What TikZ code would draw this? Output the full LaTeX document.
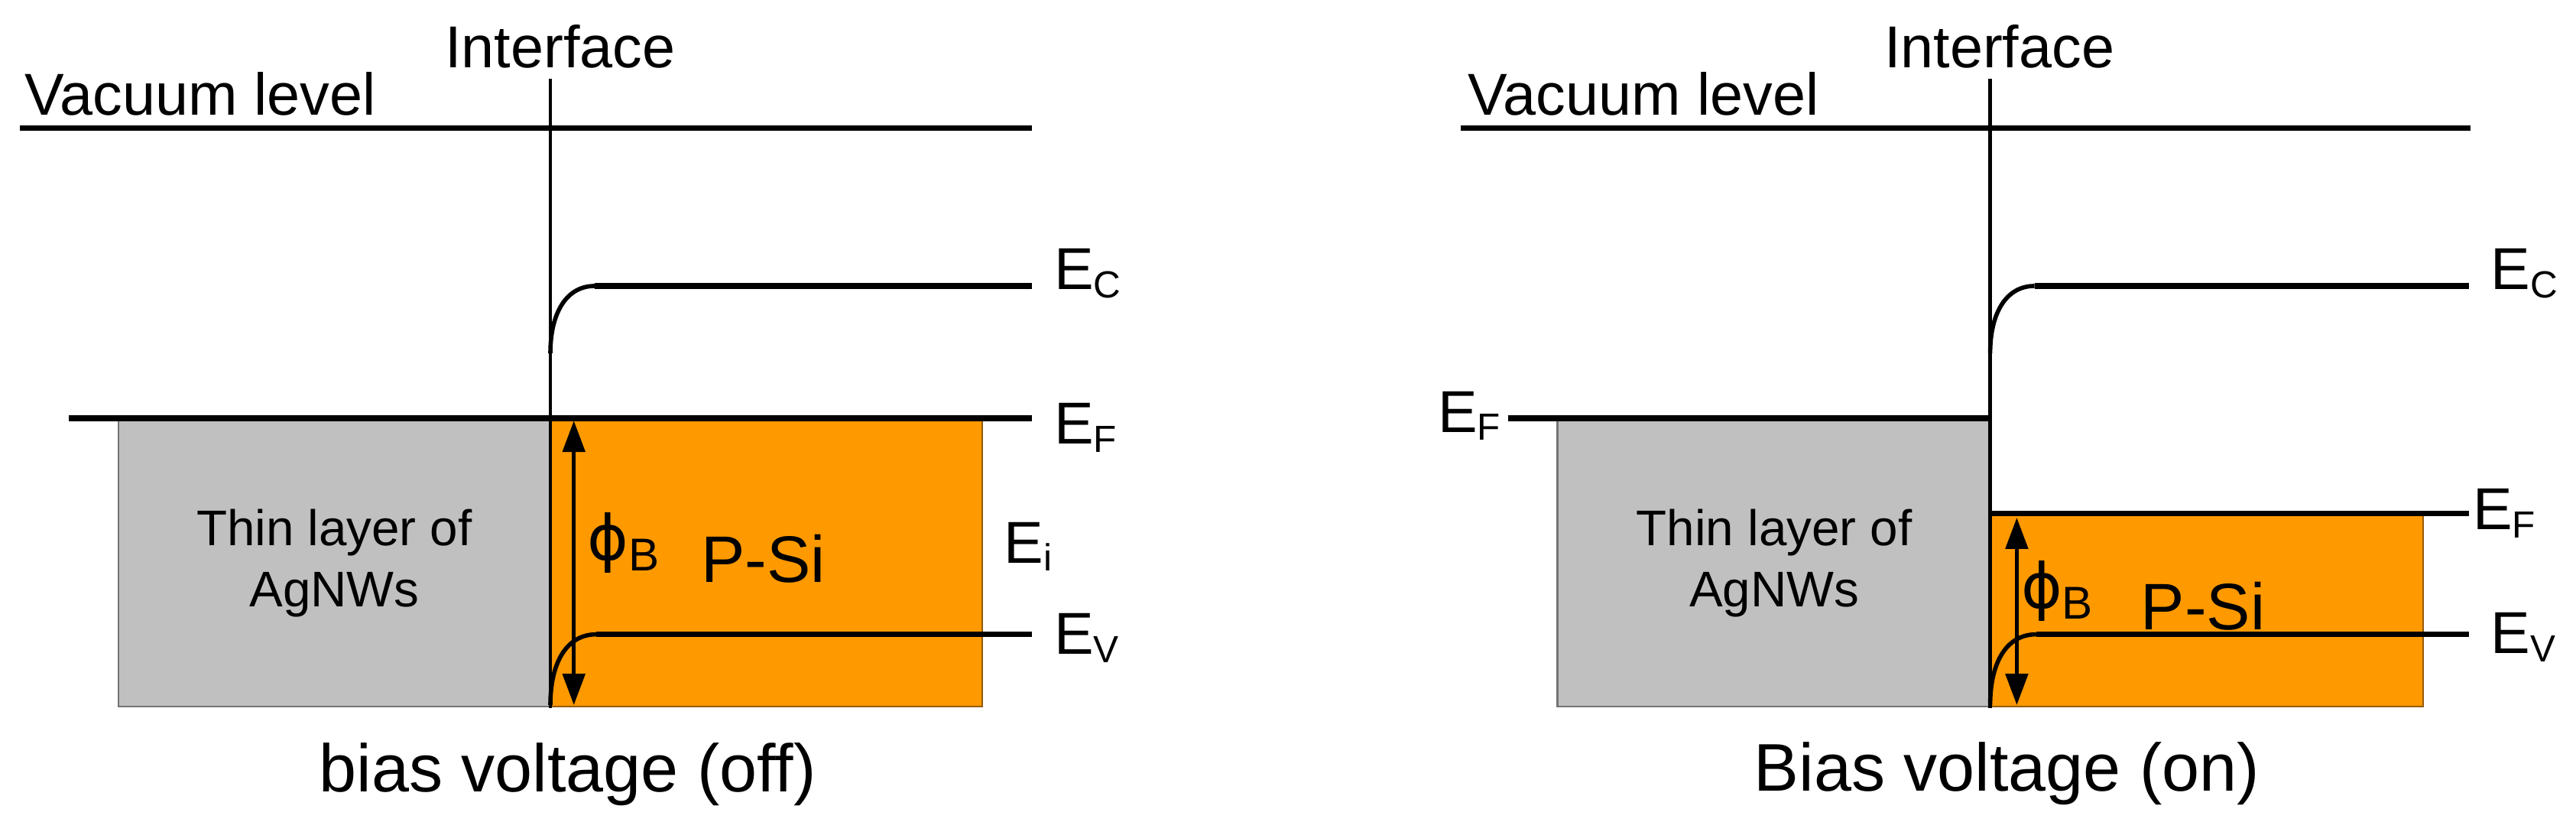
\documentclass[tikz,border=0pt]{standalone}
\usepackage{fontspec}
\setmainfont{Liberation Sans}
\newfontfamily\phifont{DejaVu Sans}
\usetikzlibrary{arrows.meta}
\definecolor{psi}{HTML}{FF9900}
\definecolor{ag}{HTML}{C0C0C0}
\definecolor{psiedge}{RGB}{150,90,10}
\newcommand\fs[1]{\fontsize{#1}{#1}\selectfont}
\newcommand\lv[1]{E\raisebox{-5pt}{\fs{23}#1}}
\begin{document}
\begin{tikzpicture}[x=1pt,y=-1pt,
  level/.style={line width=3.5pt},
  bandbend/.style={line width=2.6pt},
  iface/.style={line width=2.3pt},
  agbox/.style={fill=ag,draw=black!55,line width=1pt},
  sibox/.style={fill=psi,draw=psiedge,line width=1pt},
  barrier/.style={line width=2.4pt,{Triangle[length=19pt,width=13.5pt]}-{Triangle[length=19pt,width=13.5pt]}},
  txt/.style={inner sep=0pt,font=\fs{36}},
  elabel/.style={inner sep=0pt,anchor=base west,font=\fs{36}},
  boxtxt/.style={inner sep=0pt,anchor=base,font=\fs{30.5}},
  captxt/.style={inner sep=0pt,anchor=base,font=\fs{41}},
  phitxt/.style={inner sep=0pt,anchor=base west,font=\fs{38}},
  sitxt/.style={inner sep=0pt,anchor=base west,font=\fs{40}}
]
\useasboundingbox (0,0) rectangle (1568,508);

% ---------------- left panel ----------------
\path[agbox] (72,255) rectangle (335,430);
\path[sibox] (335,255) rectangle (598,430);
\draw[level] (12,78) -- (628,78);
\draw[level] (42,254.5) -- (628,254.5);
\draw[bandbend] (335,215) .. controls (335,190) and (345,174) .. (362,174);
\draw[level] (362,174) -- (628,174);
\draw[bandbend] (335,429) .. controls (335,403) and (345,386) .. (363,386);
\draw[level] (363,386) -- (628,386);
\draw[iface] (335,48) -- (335,431);
\coordinate (bLtop) at (349.3,256);
\coordinate (bLbot) at (349.3,429);
\draw[barrier] (bLtop) -- (bLbot);

\node[txt,anchor=base] (ifL) at (341,41) {Interface};
\node[txt,anchor=base west] (vacL) at (15,70) {Vacuum level};
\node[elabel] (ecL) at (641.5,176) {\lv{C}};
\node[elabel] (efL) at (641.5,270) {\lv{F}};
\node[elabel] (eiL) at (611,342.5) {\lv{i}};
\node[elabel] (evL) at (641.5,398) {\lv{V}};
\node[phitxt] (phiL) at (357.5,341) {{\phifont ϕ}\raisebox{-6.5pt}{\fs{28}B}};
\node[sitxt] (siL) at (426.6,354.4) {P-Si};
\node[boxtxt] (thinL) at (203.5,332) {Thin layer of};
\node[boxtxt] (agnL) at (203.5,369) {AgNWs};
\node[captxt] (capL) at (345.5,481.6) {bias voltage (off)};

% ---------------- right panel ----------------
\path[agbox] (948,256) rectangle (1211.4,430);
\path[sibox] (1211.4,313.5) rectangle (1475,430);
\draw[level] (889,78) -- (1504,78);
\draw[level] (918,254.5) -- (1211.4,254.5);
\draw[level] (1211.4,312.5) -- (1503,312.5);
\draw[bandbend] (1211.4,215) .. controls (1211.4,190) and (1221.4,174) .. (1238.4,174);
\draw[level] (1238.4,174) -- (1503,174);
\draw[bandbend] (1211.4,429) .. controls (1211.4,403) and (1221.4,386) .. (1239.4,386);
\draw[level] (1239.4,386) -- (1503,386);
\draw[iface] (1211.4,48) -- (1211.4,431);
\coordinate (bRtop) at (1227.6,315);
\coordinate (bRbot) at (1227.6,429);
\draw[barrier] (bRtop) -- (bRbot);

\node[txt,anchor=base] (ifR) at (1217,41) {Interface};
\node[txt,anchor=base west] (vacR) at (893.5,70) {Vacuum level};
\node[elabel] (ecR) at (1516,176) {\lv{C}};
\node[elabel] (efR) at (1505,322.3) {\lv{F}};
\node[elabel] (efR2) at (875,263) {\lv{F}};
\node[elabel] (evR) at (1516,397.8) {\lv{V}};
\node[phitxt] (phiR) at (1230,370) {{\phifont ϕ}\raisebox{-6.5pt}{\fs{28}B}};
\node[sitxt] (siR) at (1303,383) {P-Si};
\node[boxtxt] (thinR) at (1080,332) {Thin layer of};
\node[boxtxt] (agnR) at (1080,369) {AgNWs};
\node[captxt] (capR) at (1221.5,481.3) {Bias voltage (on)};
\end{tikzpicture}
\end{document}
